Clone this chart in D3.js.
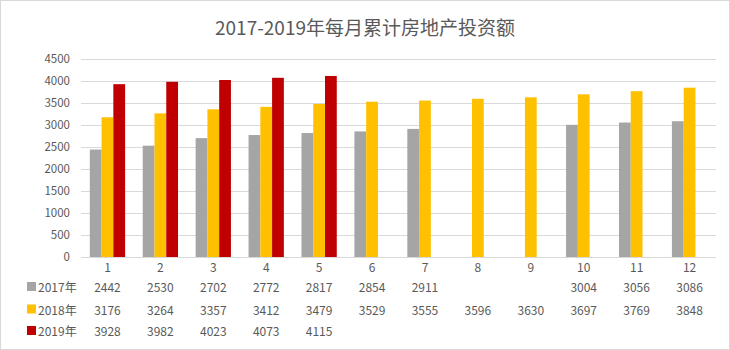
<!DOCTYPE html>
<html>
<head>
<meta charset="utf-8">
<script src="https://cdn.jsdelivr.net/npm/d3@7/dist/d3.min.js"></script>
<style>
  html, body { margin: 0; padding: 0; background: #fff; }
  svg { display: block; font-family: "Noto Sans CJK SC", "Noto Sans", sans-serif; }
</style>
</head>
<body>
<svg id="chart" width="730" height="350"></svg>
<script>
// Monthly cumulative real-estate investment, 2017–2019
const months = ["1","2","3","4","5","6","7","8","9","10","11","12"];
const seriesNames = ["2017年", "2018年", "2019年"];
const values2017 = [2442, 2530, 2702, 2772, 2817, 2854, 2911, null, null, 3004, 3056, 3086];
const values2018 = [3176, 3264, 3357, 3412, 3479, 3529, 3555, 3596, 3630, 3697, 3769, 3848];
const values2019 = [3928, 3982, 4023, 4073, 4115, null, null, null, null, null, null, null];
const yTicks = [0, 500, 1000, 1500, 2000, 2500, 3000, 3500, 4000, 4500];
const colors = ["#A5A5A5", "#FFC000", "#C00000"];

const series = [values2017, values2018, values2019];

const svg = d3.select("#chart");
const W = 730, H = 350;

// outer frame
svg.append("rect")
  .attr("x", 0.5).attr("y", 0.5)
  .attr("width", W - 1).attr("height", H - 1)
  .attr("fill", "#fff").attr("stroke", "#d9d9d9");

// title
svg.append("text")
  .attr("x", 365).attr("y", 35)
  .attr("text-anchor", "middle")
  .attr("font-size", 19)
  .attr("fill", "#595959")
  .text("2017-2019年每月累计房地产投资额");

const plot = { left: 81, right: 716, top: 59, bottom: 257 };

const x = d3.scaleBand().domain(months).range([plot.left, plot.right]).paddingInner(0).paddingOuter(0);
const y = d3.scaleLinear().domain([0, 4500]).range([plot.bottom, plot.top]);

const groupW = x.bandwidth() * 0.667;
const xs = d3.scaleBand().domain(seriesNames).range([0, groupW]);

// gridlines
svg.append("g")
  .selectAll("line")
  .data(yTicks)
  .join("line")
  .attr("x1", plot.left).attr("x2", plot.right)
  .attr("y1", d => Math.round(y(d)) + 0.5)
  .attr("y2", d => Math.round(y(d)) + 0.5)
  .attr("stroke", "#d9d9d9").attr("stroke-width", 1);

// y axis labels
const yAxis = d3.axisLeft(y).tickValues(yTicks).tickFormat(d3.format("d")).tickSize(0).tickPadding(0);
const gy = svg.append("g").attr("transform", `translate(70,0)`).call(yAxis);
gy.select(".domain").remove();
gy.selectAll("text")
  .attr("font-family", "'Noto Sans CJK SC', sans-serif")
  .attr("font-size", 11.5)
  .attr("fill", "#595959");

// bars
series.forEach((vals, si) => {
  svg.append("g")
    .selectAll("rect")
    .data(months.map((m, i) => ({ m, v: vals[i] })).filter(d => d.v != null))
    .join("rect")
    .attr("x", d => x(d.m) + (x.bandwidth() - groupW) / 2 + xs(seriesNames[si]))
    .attr("width", xs.bandwidth())
    .attr("y", d => y(d.v))
    .attr("height", d => y(0) - y(d.v))
    .attr("fill", colors[si]);
});

// category axis labels
const xAxis = d3.axisBottom(x).tickSize(0).tickPadding(0);
const gx = svg.append("g").attr("transform", `translate(0,${plot.bottom + 15})`).call(xAxis);
gx.select(".domain").remove();
gx.selectAll("text")
  .attr("dy", 0)
  .attr("font-family", "'Noto Sans CJK SC', sans-serif")
  .attr("font-size", 12)
  .attr("fill", "#595959");

// data table rows
const rowY = [292, 314.5, 336];
series.forEach((vals, si) => {
  const row = svg.append("g");
  row.append("rect")
    .attr("x", 27).attr("y", rowY[si] - 10)
    .attr("width", 9).attr("height", 9)
    .attr("fill", colors[si]);
  row.append("text")
    .attr("x", 38).attr("y", rowY[si])
    .attr("font-size", 12).attr("fill", "#595959")
    .text(seriesNames[si]);
  row.selectAll("text.val")
    .data(months.map((m, i) => ({ m, v: vals[i] })).filter(d => d.v != null))
    .join("text")
    .attr("class", "val")
    .attr("x", d => x(d.m) + x.bandwidth() / 2)
    .attr("y", rowY[si])
    .attr("text-anchor", "middle")
    .attr("font-size", 12).attr("fill", "#595959")
    .text(d => d.v);
});
</script>
</body>
</html>
